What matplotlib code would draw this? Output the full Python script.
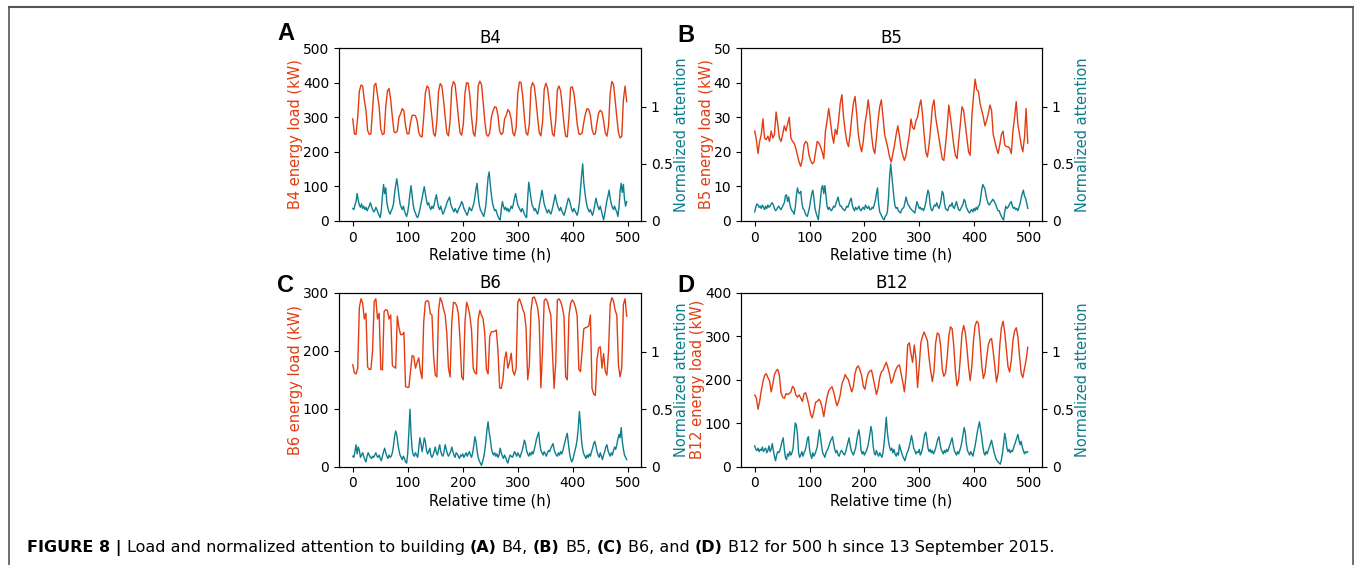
import numpy as np
import matplotlib
matplotlib.use("Agg")
import matplotlib.pyplot as plt
from matplotlib.lines import Line2D

W_PX, H_PX = 1355, 565
DPI = 100

RED = "#e23c12"
TEAL = "#0d7f8e"

LOAD_STEP = 3   # hours between load samples
ATT_STEP = 2    # hours between attention samples

X_TICKS = [0, 100, 200, 300, 400, 500]
ATT_TICKS = [0, 0.5, 1]
ATT_TICK_LABELS = ["0", "0.5", "1"]

# energy load (kW), one value every 3 h
B4_LOAD = [
    295, 252, 250, 300, 375, 393, 390, 350, 320, 262,
    250, 252, 320, 392, 398, 365, 330, 265, 250, 252,
    330, 375, 383, 350, 300, 258, 255, 260, 300, 310,
    325, 318, 275, 252, 252, 285, 305, 306, 304, 290,
    255, 245, 243, 300, 370, 390, 385, 345, 300, 252,
    245, 290, 375, 397, 390, 350, 300, 255, 246, 290,
    385, 403, 395, 350, 300, 255, 248, 280, 370, 400,
    398, 360, 300, 255, 245, 290, 390, 404, 395, 345,
    290, 250, 245, 255, 300, 318, 330, 328, 305, 260,
    250, 255, 295, 305, 322, 315, 295, 255, 246, 270,
    370, 402, 400, 360, 300, 255, 248, 280, 385, 400,
    390, 350, 300, 255, 246, 285, 380, 398, 385, 345,
    295, 252, 245, 290, 380, 390, 375, 330, 280, 245,
    243, 300, 385, 388, 370, 330, 280, 252, 250, 255,
    285, 310, 325, 322, 305, 265, 250, 252, 285, 312,
    320, 315, 290, 255, 245, 275, 370, 403, 395, 350,
    300, 255, 240, 245, 350, 390, 345,
]

B5_LOAD = [
    26.0, 23.5, 19.5, 23, 25, 29.5, 24, 23.5, 24.5, 23,
    26, 24, 25, 31.5, 28, 24, 23, 25, 27.5, 26,
    28, 30, 24, 23, 22.5, 21, 19, 17, 15.8, 18,
    22, 23, 22.5, 19, 17.5, 16.5, 17, 20, 23, 22.5,
    21.5, 20, 18, 26, 29, 32.5, 29, 25, 22.5, 26.5,
    25, 29, 34, 36.5, 30, 26, 23, 21.5, 25, 30,
    34, 36, 31, 25, 22, 20, 23, 28, 31, 35,
    31, 25, 21, 19.5, 24, 29, 33, 35, 30, 25,
    23, 21, 18.5, 17, 19.5, 22, 25, 27.5, 24.5, 21,
    19, 17.5, 19, 22, 25, 29.5, 27, 26.5, 29, 30,
    33, 35, 31, 25, 20, 18.5, 22, 27, 33, 35,
    30, 27, 24, 21, 18, 17.5, 22, 27, 33.5, 30,
    26, 22, 19, 18, 23, 28, 33, 32, 28, 24,
    20, 19, 30, 36, 41, 38, 37.5, 34, 32, 30,
    27.5, 29, 31, 33.5, 32, 25, 23, 21, 19.5, 22,
    25, 26, 22, 21.5, 21.5, 21, 19.5, 26, 30, 34.5,
    28, 25, 22, 20, 24, 32.5, 22.5,
]

B6_LOAD = [
    176, 162, 160, 170, 275, 290, 283, 255, 265, 172,
    168, 168, 200, 285, 290, 255, 265, 168, 167, 268,
    271, 270, 255, 262, 175, 172, 170, 260, 240, 228,
    228, 232, 138, 137, 137, 165, 192, 190, 170, 180,
    188, 165, 152, 250, 284, 287, 285, 264, 262, 190,
    158, 155, 270, 292, 285, 272, 262, 230, 170, 155,
    250, 284, 283, 278, 264, 220, 155, 150, 250, 284,
    275, 260, 235, 170, 162, 160, 255, 270, 262, 255,
    230, 168, 160, 225, 233, 233, 234, 236, 200, 136,
    135, 150, 185, 198, 170, 180, 196, 165, 158, 170,
    284, 290, 282, 272, 265, 240, 150, 175, 270, 292,
    293, 285, 275, 250, 136, 200, 287, 290, 285, 272,
    262, 200, 135, 180, 288, 290, 285, 275, 260, 155,
    150, 260, 282, 288, 284, 275, 260, 168, 164, 200,
    238, 240, 241, 243, 262, 135, 125, 123, 185, 205,
    207, 170, 195, 165, 158, 200, 280, 292, 286, 270,
    262, 175, 155, 170, 280, 290, 260,
]

B12_LOAD = [
    165, 158, 132, 150, 175, 195, 210, 214, 205, 198,
    172, 190, 212, 220, 224, 210, 170, 160, 157, 168,
    166, 168, 172, 185, 180, 165, 160, 165, 158, 150,
    168, 170, 156, 140, 120, 112, 128, 148, 150, 155,
    150, 135, 115, 140, 160, 175, 180, 184, 172, 155,
    140, 150, 165, 190, 200, 212, 205, 200, 185, 172,
    185, 215, 228, 232, 222, 210, 185, 178, 200, 215,
    220, 222, 205, 185, 166, 180, 205, 218, 222, 232,
    240, 228, 212, 192, 200, 215, 225, 232, 234, 215,
    195, 172, 210, 280, 285, 260, 240, 280, 250, 182,
    230, 285, 300, 310, 300, 290, 250, 220, 196, 220,
    285, 308, 305, 280, 225, 208, 215, 250, 300, 322,
    318, 280, 220, 186, 200, 250, 305, 325, 310, 275,
    230, 198, 230, 290, 325, 335, 330, 290, 235, 203,
    215, 250, 280, 292, 295, 265, 230, 195, 215, 280,
    320, 335, 310, 270, 230, 218, 245, 290, 312, 320,
    300, 255, 215, 205, 225, 245, 275,
]

# normalized attention in hundredths, one value every 2 h
B4_ATT = [
    11, 10, 14, 17, 24, 18, 14, 12, 15, 11,
    13, 10, 12, 9, 11, 13, 16, 13, 10, 8,
    9, 12, 10, 7, 5, 3, 10, 22, 32, 24,
    29, 16, 11, 8, 6, 9, 11, 15, 24, 31,
    37, 30, 22, 15, 12, 10, 13, 9, 6, 4,
    8, 15, 24, 31, 22, 14, 9, 7, 4, 3,
    6, 10, 15, 20, 25, 30, 24, 18, 14, 16,
    12, 10, 13, 11, 14, 19, 23, 17, 12, 10,
    13, 9, 6, 8, 11, 14, 17, 19, 21, 15,
    12, 10, 8, 11, 9, 7, 10, 12, 14, 17,
    15, 11, 9, 7, 5, 8, 12, 10, 9, 12,
    15, 21, 28, 33, 22, 14, 10, 8, 6, 4,
    8, 14, 26, 38, 43, 32, 23, 16, 12, 9,
    10, 7, 4, 2, 1, 10, 17, 13, 10, 12,
    9, 11, 8, 10, 13, 11, 15, 20, 24, 19,
    14, 12, 10, 8, 11, 9, 6, 4, 3, 20,
    34, 27, 20, 14, 12, 9, 11, 8, 6, 10,
    16, 21, 27, 21, 15, 12, 9, 7, 10, 8,
    6, 9, 13, 18, 23, 18, 14, 11, 9, 12,
    9, 7, 5, 8, 12, 16, 20, 18, 14, 10,
    8, 11, 9, 7, 5, 9, 16, 28, 40, 50,
    34, 25, 18, 13, 10, 8, 10, 7, 5, 9,
    14, 20, 16, 12, 10, 13, 9, 5, 1, 6,
    12, 18, 22, 27, 20, 15, 12, 10, 13, 10,
    8, 4, 12, 26, 33, 25, 32, 19, 13, 17,
]

B5_ATT = [
    8, 12, 15, 14, 12, 13, 11, 14, 12, 10,
    13, 11, 14, 12, 13, 15, 16, 14, 11, 9,
    10, 12, 13, 11, 10, 12, 14, 16, 22, 23,
    17, 21, 15, 11, 9, 8, 6, 12, 22, 29,
    25, 24, 26, 16, 11, 10, 7, 5, 4, 8,
    12, 18, 24, 27, 20, 11, 7, 4, 1, 10,
    20, 29, 31, 24, 31, 22, 13, 10, 12, 10,
    9, 11, 13, 12, 15, 18, 21, 16, 13, 13,
    11, 10, 9, 11, 13, 12, 15, 18, 20, 14,
    11, 9, 12, 10, 11, 13, 10, 9, 11, 12,
    10, 14, 12, 11, 13, 10, 10, 12, 11, 14,
    18, 24, 29, 15, 8, 6, 4, 2, 1, 4,
    5, 8, 20, 38, 50, 40, 31, 20, 13, 11,
    12, 9, 8, 7, 10, 11, 12, 16, 21, 17,
    14, 13, 11, 10, 9, 8, 7, 12, 17, 14,
    11, 12, 10, 11, 9, 12, 16, 22, 27, 24,
    14, 10, 9, 12, 14, 13, 16, 13, 11, 14,
    19, 26, 24, 16, 11, 10, 9, 12, 14, 13,
    16, 12, 11, 14, 17, 13, 10, 9, 11, 13,
    15, 19, 17, 12, 10, 8, 7, 9, 10, 8,
    11, 9, 12, 10, 13, 14, 20, 27, 32, 30,
    28, 22, 18, 15, 14, 16, 17, 19, 18, 16,
    14, 11, 9, 9, 6, 4, 2, 1, 8, 13,
    11, 12, 14, 16, 17, 13, 11, 12, 10, 11,
    9, 12, 15, 20, 24, 27, 22, 20, 16, 11,
]

B6_ATT = [
    9, 8, 13, 19, 11, 17, 14, 8, 10, 12,
    9, 6, 4, 9, 12, 10, 8, 7, 9, 8,
    10, 12, 9, 8, 10, 7, 5, 9, 13, 16,
    12, 9, 7, 10, 8, 9, 12, 18, 26, 31,
    28, 20, 14, 10, 8, 6, 9, 7, 4, 3,
    12, 30, 50, 28, 15, 10, 9, 12, 10, 8,
    16, 25, 20, 13, 18, 25, 22, 14, 11, 13,
    16, 10, 8, 10, 13, 17, 12, 10, 15, 19,
    13, 10, 9, 13, 19, 15, 11, 9, 11, 13,
    17, 13, 10, 8, 12, 11, 9, 7, 10, 9,
    11, 8, 10, 12, 9, 11, 13, 10, 8, 12,
    18, 26, 22, 14, 8, 5, 3, 1, 4, 8,
    14, 22, 32, 39, 30, 24, 16, 12, 10, 12,
    9, 11, 8, 10, 16, 12, 9, 7, 10, 8,
    5, 3, 7, 10, 9, 8, 10, 13, 11, 9,
    12, 10, 8, 11, 14, 18, 23, 20, 14, 11,
    9, 12, 10, 13, 11, 15, 19, 24, 27, 30,
    20, 14, 12, 10, 13, 11, 9, 12, 14, 13,
    16, 18, 20, 15, 12, 10, 9, 12, 10, 13,
    11, 14, 18, 22, 26, 29, 20, 12, 7, 4,
    6, 10, 14, 18, 24, 34, 48, 36, 22, 15,
    11, 9, 7, 10, 8, 11, 9, 13, 16, 20,
    22, 18, 13, 10, 8, 12, 9, 6, 10, 13,
    17, 19, 14, 11, 9, 12, 10, 14, 17, 15,
    19, 24, 28, 25, 34, 22, 15, 10, 8, 6,
]

B12_ATT = [
    18, 15, 14, 16, 13, 15, 14, 17, 13, 15,
    16, 12, 14, 18, 13, 15, 20, 14, 9, 5,
    10, 13, 12, 14, 18, 22, 25, 15, 8, 6,
    11, 9, 13, 10, 12, 16, 28, 38, 36, 28,
    12, 8, 10, 13, 9, 12, 14, 18, 24, 26,
    15, 10, 7, 12, 9, 11, 14, 17, 25, 32,
    26, 18, 12, 10, 8, 12, 14, 16, 19, 22,
    24, 26, 20, 15, 12, 14, 10, 9, 12, 14,
    13, 11, 10, 13, 17, 21, 25, 19, 14, 12,
    10, 13, 16, 22, 28, 32, 25, 14, 11, 13,
    10, 12, 14, 17, 22, 28, 35, 30, 18, 12,
    10, 14, 11, 9, 12, 10, 8, 12, 20, 32,
    43, 30, 22, 17, 14, 16, 12, 15, 11, 9,
    12, 10, 19, 15, 12, 9, 7, 5, 9, 12,
    14, 18, 22, 27, 22, 16, 14, 11, 13, 12,
    15, 10, 12, 16, 22, 28, 30, 24, 16, 13,
    15, 12, 14, 11, 13, 16, 20, 24, 26, 20,
    15, 13, 11, 14, 12, 15, 13, 16, 19, 22,
    25, 19, 14, 12, 10, 13, 11, 14, 17, 22,
    28, 34, 30, 20, 14, 12, 10, 13, 11, 9,
    14, 18, 24, 30, 35, 39, 32, 26, 18, 12,
    10, 13, 11, 14, 17, 20, 23, 18, 14, 10,
    7, 5, 4, 3, 2, 6, 12, 20, 29, 24,
    16, 13, 15, 12, 14, 13, 16, 19, 22, 25,
    28, 23, 19, 22, 17, 14, 11, 13, 12, 13,
]

CAPTION = [
    ("FIGURE 8 |", True),
    ("Load and normalized attention to building", False),
    ("(A)", True), ("B4,", False),
    ("(B)", True), ("B5,", False),
    ("(C)", True), ("B6, and", False),
    ("(D)", True), ("B12 for 500 h since 13 September 2015.", False),
]


def px_rect(left, top, right, bottom):
    return [left / W_PX, 1 - bottom / H_PX, (right - left) / W_PX, (bottom - top) / H_PX]


def draw_panel(fig, rect, letter, letter_xy, name, load, att, ymax, ystep):
    ax = fig.add_axes(rect)
    hours_load = np.arange(len(load)) * LOAD_STEP
    ax.plot(hours_load, load, color=RED, lw=1.0)
    ax.set_xlim(-25, 524)
    ax.set_ylim(0, ymax)
    ax.set_xticks(X_TICKS)
    ax.set_yticks(np.arange(0, ymax + 1, ystep))
    ax.tick_params(labelsize=10)
    ax.set_xlabel("Relative time (h)", fontsize=10.5, labelpad=2)
    ax.set_ylabel(f"{name} energy load (kW)", color=RED, fontsize=10.5, labelpad=0)
    ax.set_title(name, fontsize=12, pad=3.5)

    ax2 = ax.twinx()
    hours_att = np.arange(len(att)) * ATT_STEP
    ax2.plot(hours_att, np.array(att) / 100, color=TEAL, lw=1.0)
    ax2.set_ylim(0, 1.515)
    ax2.set_yticks(ATT_TICKS)
    ax2.set_yticklabels(ATT_TICK_LABELS)
    ax2.tick_params(labelsize=10)
    ax2.set_ylabel("Normalized attention", color=TEAL, fontsize=10.5, labelpad=1)

    fig.text(letter_xy[0] / W_PX, 1 - letter_xy[1] / H_PX, letter,
             fontsize=17, fontweight="bold", family=["Liberation Sans", "DejaVu Sans"],
             ha="center", va="center")


def place_caption(fig, pieces, x_px, base_px, size, family):
    renderer = fig.canvas.get_renderer()
    p1 = fig.text(0, 0, "a a", fontsize=size, family=family)
    p2 = fig.text(0, 0, "aa", fontsize=size, family=family)
    space = p1.get_window_extent(renderer).width - p2.get_window_extent(renderer).width
    p1.remove()
    p2.remove()

    texts = []
    x = x_px
    for text, bold in pieces:
        t = fig.text(x / W_PX, 1 - base_px / H_PX, text, fontsize=size,
                     fontweight="bold" if bold else "normal", family=family,
                     ha="left", va="baseline")
        texts.append(t)
        x += t.get_window_extent(renderer).width + space
    return texts, x - space - x_px


def draw_caption(fig, pieces, x_px, base_px, target_width):
    family = ["DejaVu Sans"]
    texts, width = place_caption(fig, pieces, x_px, base_px, 11, family)
    for t in texts:
        t.remove()
    size = 11 * target_width / width
    place_caption(fig, pieces, x_px, base_px, size, family)


def main():
    fig = plt.figure(figsize=(W_PX / DPI, H_PX / DPI), dpi=DPI)

    panels = [
        (px_rect(339, 48, 641, 221), "A", (286, 34), "B4", B4_LOAD, B4_ATT, 500, 100),
        (px_rect(741, 48, 1042, 221), "B", (686, 35), "B5", B5_LOAD, B5_ATT, 50, 10),
        (px_rect(339, 293, 641, 466.5), "C", (286, 285), "B6", B6_LOAD, B6_ATT, 300, 100),
        (px_rect(741, 293, 1042, 466.5), "D", (686, 286), "B12", B12_LOAD, B12_ATT, 400, 100),
    ]
    for rect, letter, letter_xy, name, load, att, ymax, ystep in panels:
        draw_panel(fig, rect, letter, letter_xy, name, load, att, ymax, ystep)

    # frame around the figure (top, left, right)
    border = "#555555"
    fig.add_artist(Line2D([9 / W_PX, 1353 / W_PX], [1 - 7 / H_PX, 1 - 7 / H_PX],
                          color=border, lw=1.5, transform=fig.transFigure))
    fig.add_artist(Line2D([9 / W_PX, 9 / W_PX], [0, 1 - 7 / H_PX],
                          color=border, lw=1.2, transform=fig.transFigure))
    fig.add_artist(Line2D([1353 / W_PX, 1353 / W_PX], [0, 1 - 7 / H_PX],
                          color=border, lw=1.2, transform=fig.transFigure))

    draw_caption(fig, CAPTION, 27, 552, 1021)

    fig.savefig("out.png", dpi=DPI)
    plt.close(fig)


if __name__ == "__main__":
    main()
